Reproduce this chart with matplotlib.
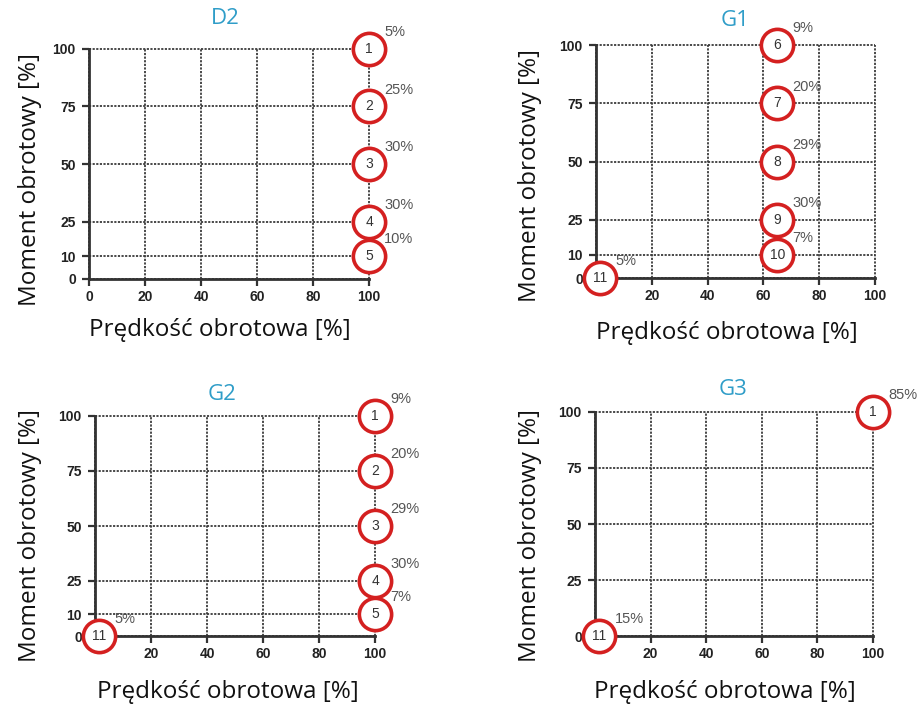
import matplotlib
matplotlib.use("Agg")
import matplotlib.pyplot as plt

# operating points per test cycle: speed [%], torque [%], mode number, weight
d2_speed = [100, 100, 100, 100, 100]
d2_torque = [100, 75, 50, 25, 10]
d2_mode = ["1", "2", "3", "4", "5"]
d2_weight = ["5%", "25%", "30%", "30%", "10%"]

g1_speed = [65, 65, 65, 65, 65, 1.5]
g1_torque = [100, 75, 50, 25, 10, 0]
g1_mode = ["6", "7", "8", "9", "10", "11"]
g1_weight = ["9%", "20%", "29%", "30%", "7%", "5%"]

g2_speed = [100, 100, 100, 100, 100, 1.5]
g2_torque = [100, 75, 50, 25, 10, 0]
g2_mode = ["1", "2", "3", "4", "5", "11"]
g2_weight = ["9%", "20%", "29%", "30%", "7%", "5%"]

g3_speed = [100, 1.5]
g3_torque = [100, 0]
g3_mode = ["1", "11"]
g3_weight = ["85%", "15%"]

x_ticks = [0, 20, 40, 60, 80, 100]
y_ticks_full = [0, 10, 25, 50, 75, 100]
y_ticks_g3 = [0, 25, 50, 75, 100]

W, H = 919, 707
fig = plt.figure(figsize=(W / 100, H / 100), dpi=100)
fig.patch.set_facecolor("white")

title_color = "#2f9dc8"
label_font = "Open Sans"


def px_axes(l, r, t, b):
    return [l / W, 1 - b / H, (r - l) / W, (b - t) / H]


def draw_panel(rect, name, speed, torque, modes, weights, yticks, xticks_shown,
               title_xy, ylab_xy, xlab_xy):
    ax = fig.add_axes(px_axes(*rect))
    ax.set_xlim(0, 100)
    ax.set_ylim(0, 100)
    ax.set_xticks(x_ticks)
    ax.set_xticklabels([str(t) if t in xticks_shown else "" for t in x_ticks])
    ax.set_yticks(yticks)
    ax.set_yticklabels([str(t) for t in yticks])
    for s in ["top", "right"]:
        ax.spines[s].set_visible(False)
    for s in ["left", "bottom"]:
        ax.spines[s].set_linewidth(2.0)
        ax.spines[s].set_color("#333333")
    ax.grid(True, linestyle=(0, (1.2, 0.8)), color="#3a3a3a", linewidth=1.3)
    for gl in ax.get_xgridlines() + ax.get_ygridlines():
        gl.set_clip_on(False)
    ax.set_axisbelow(True)
    ax.tick_params(direction="out", length=5, width=1.6, color="#333333",
                   labelsize=10, labelcolor="#222222")
    ax.tick_params(axis="y", pad=4.5)
    ax.tick_params(axis="x", pad=3)
    for lab in ax.get_xticklabels() + ax.get_yticklabels():
        lab.set_fontweight("bold")
        lab.set_family("Liberation Sans")

    ax.scatter(speed, torque, s=540, facecolor="white", edgecolor="#d42020",
               linewidth=2.6, zorder=5, clip_on=False)
    for x, y, m, w in zip(speed, torque, modes, weights):
        ax.text(x, y, m, ha="center", va="center", fontsize=10,
                color="#333333", zorder=6, family="Liberation Sans")
        ax.annotate(w, (x, y), xytext=(11, 7), textcoords="offset points",
                    fontsize=10.5, color="#555555", ha="left", va="bottom",
                    family="Liberation Sans", zorder=6)

    fig.text(title_xy[0] / W, 1 - title_xy[1] / H, name, color=title_color,
             fontsize=16, ha="center", va="center", family=label_font)
    fig.text(ylab_xy[0] / W, 1 - ylab_xy[1] / H, "Moment obrotowy [%]",
             rotation=90, fontsize=17.5, ha="center", va="center",
             family=label_font, color="#111111")
    fig.text(xlab_xy[0] / W, 1 - xlab_xy[1] / H, "Prędkość obrotowa [%]",
             fontsize=17.5, ha="center", va="center", family=label_font,
             color="#111111")
    return ax


draw_panel((89, 369, 49, 279), "D2", d2_speed, d2_torque, d2_mode, d2_weight,
           y_ticks_full, x_ticks, (225, 18), (30, 180), (220, 330))
draw_panel((596, 875, 45, 278), "G1", g1_speed, g1_torque, g1_mode, g1_weight,
           y_ticks_full, x_ticks[1:], (735, 21), (530, 175), (727, 333))
draw_panel((95, 375, 416, 636), "G2", g2_speed, g2_torque, g2_mode, g2_weight,
           y_ticks_full, x_ticks[1:], (222, 395), (30, 535), (228, 692))
draw_panel((595, 873, 412, 636), "G3", g3_speed, g3_torque, g3_mode, g3_weight,
           y_ticks_g3, x_ticks[1:], (733, 390), (530, 535), (725, 692))

fig.savefig("out.png", dpi=100, facecolor="white")
